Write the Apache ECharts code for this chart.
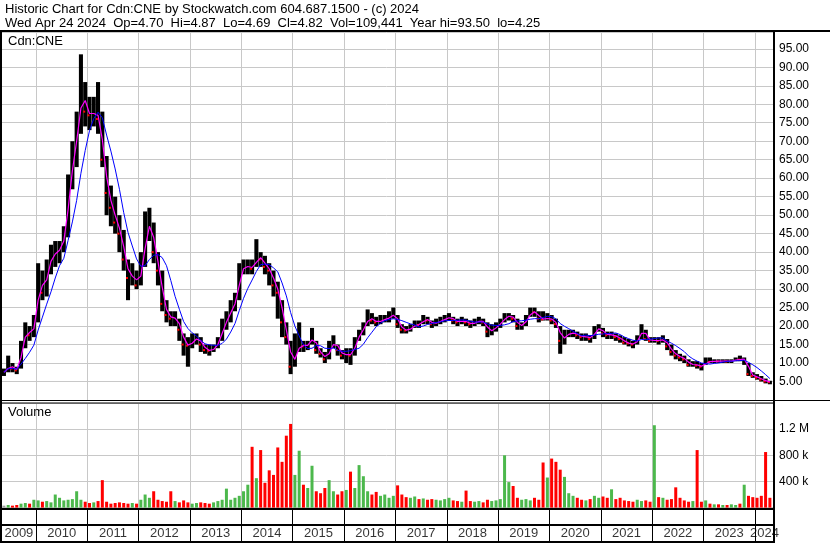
<!DOCTYPE html>
<html><head><meta charset="utf-8">
<script src="https://cdn.jsdelivr.net/npm/echarts@6/dist/echarts.min.js"></script>
<style>html,body{margin:0;padding:0;background:#fff}#c{width:830px;height:543px}</style>
</head><body><div id="c"></div>
<script>
// ---- data (monthly) ----
const startYear = 2009, startMonth = 5; // first bar: May 2009
const closes = [
  7.5, 9.5, 8.5, 8, 15, 19, 17.5, 21,
  33, 29, 36, 39, 40, 41, 45, 58, 66, 74, 84, 78,
  77, 78, 76, 65, 56, 52, 48, 45, 38, 33, 34, 31,
  36, 46, 48, 40, 35, 26, 23, 22, 22.3, 19, 15, 14.7,
  16, 17, 15, 13.5, 13.3, 14, 16, 20, 22, 25, 27, 35,
  36, 36.2, 35.5, 39, 38, 36, 35, 31, 29, 21, 17, 9,
  13, 15, 14.5, 15, 17.5, 13.5, 12.5, 11, 14, 16, 13.5, 12,
  12.5, 12, 16, 18, 20, 22.5, 21.5, 21, 21.5, 22, 22.3, 23.5,
  20.5, 19, 18.8, 19.5, 20.5, 20.3, 22, 21.5, 20.5, 21, 21.5, 22,
  22.5, 21.5, 21, 21.5, 21, 20.5, 21, 21.5, 21, 18.5, 19, 20,
  21, 22.5, 22.8, 22, 20, 20.3, 22, 24, 23.7, 22, 21.8, 22.3,
  21.5, 20.5, 16, 17.5, 18, 18.2, 17.5, 17, 17.2, 16.5, 19, 19.5,
  18, 17.5, 17.7, 17, 16.5, 15.5, 15.3, 15, 16.5, 19.5, 16.5, 16,
  16.2, 16, 16.5, 14.5, 13, 12, 11.5, 11, 9.5, 9.7, 9.3, 9,
  10.5, 10.3, 10.6, 10.4, 10.6, 10.4, 10.6, 11, 10.9, 11.2, 7, 6.5,
  6, 5.5, 5, 4.82
];
const highs = [
  8.5, 12, 10, 9, 16, 21, 20, 23,
  37, 35, 38, 42, 43, 43, 47, 61, 70, 78, 93.5, 86,
  82, 82, 86, 78, 66, 58, 55, 50, 46, 38, 37, 35,
  40, 51, 52, 48, 40, 35, 27, 24, 24, 22, 18, 17,
  18, 18, 17, 15, 15, 15, 17, 22, 24, 27, 29, 37,
  38, 38, 38, 43.5, 40, 39, 37, 35, 32, 27, 21, 16,
  18, 21, 16, 16, 19.5, 16, 14, 13, 16, 17.5, 15, 13.5,
  14, 14, 17, 19, 21, 24.5, 23.5, 22.5, 23, 23, 24, 25,
  23, 20.5, 20, 20.5, 21.5, 21.5, 23, 22.5, 21.5, 22, 22.5, 23,
  23.5, 22.5, 22, 22.5, 22, 21.5, 22, 22.5, 22, 21, 20.5, 21,
  22, 23.5, 23.5, 23, 22, 21, 23, 25, 25, 24, 24, 23.5,
  23, 22, 20, 19, 19, 19, 18.5, 18, 18, 17.5, 20, 20.5,
  19.5, 18.5, 18.5, 18, 17.5, 17, 16.5, 16, 17.5, 20.5, 19, 17,
  17, 17, 17.5, 16.5, 15, 13.5, 12.5, 12, 11, 10.5, 10.5, 10,
  11.5, 11.5, 11, 11, 11, 11, 11, 11.5, 12, 11.5, 10, 7.5,
  7, 6.5, 5.8, 5.2
];
const lows = [
  6.5, 7.5, 7.5, 7, 8.5, 14, 16, 17,
  21, 27, 28, 34, 36, 37, 40, 44, 57, 63, 72, 74,
  73, 74, 72, 63, 50, 47, 45, 40, 35, 27, 31, 30,
  31, 36, 43, 37, 31, 24, 21, 20, 20, 16, 12, 9,
  14, 15, 13, 12.5, 12, 13, 14, 16, 19, 21, 24, 27,
  34, 34, 34, 36, 36, 34, 31, 28, 22, 17, 15, 7,
  9, 13, 13, 13.5, 15, 12.5, 11.5, 10, 11, 14, 12, 11,
  10, 9.5, 12, 16, 17.5, 20, 20.5, 20, 20.5, 21, 21, 22,
  19.5, 18, 18, 18.5, 19.5, 19.5, 20.5, 20.5, 19.5, 20, 20.5, 21,
  21.5, 20.5, 20, 20.5, 20, 19.5, 20, 20.5, 20, 17, 17.5, 18.5,
  19.5, 21, 21.5, 21, 19, 19, 20, 22.5, 22.5, 21, 21.5, 21.5,
  20.5, 19.5, 12.5, 15, 17, 17, 16.5, 16, 16, 15.5, 16.5, 18.5,
  17, 16.5, 16.5, 16, 15.5, 15, 14.5, 14, 15, 16.5, 16, 15.5,
  15.5, 15, 15.5, 13.5, 12, 11, 10.5, 10, 9, 9, 8.5, 8,
  9.5, 10, 10, 10, 10, 10, 10, 10.5, 10.5, 9.5, 6.5, 6,
  5.5, 5, 4.5, 4.25
];
const volumes = [ // thousands of shares
  30, 40, 30, 40, 60, 70, 60, 120,
  110, 90, 100, 80, 200, 150, 110, 120, 130, 250, 120, 90,
  70, 80, 100, 420, 90, 60, 70, 80, 70, 60, 70, 60,
  120, 200, 150, 250, 120, 100, 90, 250, 100, 80, 110, 80,
  60, 70, 80, 70, 60, 80, 100, 120, 290, 120, 150, 180,
  250, 350, 930, 450, 880, 380, 570, 500, 920, 700, 1100, 1280,
  500, 870, 350, 300, 640, 250, 220, 300, 420, 250, 200, 250,
  270, 550, 300, 650, 480, 250, 200, 240, 180, 200, 150, 180,
  340, 200, 160, 150, 170, 130, 140, 120, 130, 120, 110, 130,
  150, 110, 100, 90, 260, 100, 90, 100, 80, 120, 100, 110,
  130, 800, 390, 330, 150, 120, 130, 110, 150, 120, 690, 460,
  750, 700, 580, 470, 220, 180, 150, 120, 110, 130, 180, 150,
  170, 150, 280, 130, 150, 110, 100, 90, 120, 100, 110, 90,
  1260, 160, 150, 120, 130, 310, 150, 110, 90, 100, 880, 90,
  110, 60, 50, 50, 40, 40, 50, 40, 60, 350, 180, 160,
  150, 180, 850, 150
];
const years = [2009,2010,2011,2012,2013,2014,2015,2016,2017,2018,2019,2020,2021,2022,2023,2024];
const volumeTicks = [400, 800, 1200];
const volumeTickLabels = ['400 k', '800 k', '1.2 M'];
const maShort = 2, maLong = 6;

// ---- layout ----
const FONT = '"Liberation Sans", Arial, sans-serif';
const PX_PER_YEAR = 51.35;
const X_2009 = -15.35;          // pixel of 1 Jan 2009 (off the left edge)
const PLOT_RIGHT = 774;
const xMin = 2009, xMax = 2009 + (PLOT_RIGHT - X_2009) / PX_PER_YEAR;
const visStart = startYear + (startMonth - 1) / 12;

const xs = closes.map((_, i) => startYear + (startMonth - 1 + i + 0.5) / 12);
function sma(arr, n) {
  return arr.map((_, i) => {
    const s = Math.max(0, i - n + 1); let t = 0;
    for (let j = s; j <= i; j++) t += arr[j];
    return t / (i - s + 1);
  });
}
const maS = sma(closes, maShort), maL = sma(closes, maLong);

const chart = echarts.init(document.getElementById('c'), null, {renderer: 'canvas'});
const txt = (size) => ({fontFamily: FONT, fontSize: size, fontWeight: 'normal', color: '#000'});
const gridBase = {left: X_2009, right: 830 - PLOT_RIGHT, outerBoundsMode: 'none', containLabel: false, show: false};

const option = {
  animation: false,
  backgroundColor: '#fff',
  textStyle: {fontFamily: FONT},
  title: [
    {text: 'Historic Chart for Cdn:CNE by Stockwatch.com 604.687.1500 - (c) 2024', left: 5, top: 3, padding: 0, textStyle: txt(13)},
    {text: 'Wed Apr 24 2024  Op=4.70  Hi=4.87  Lo=4.69  Cl=4.82  Vol=109,441  Year hi=93.50  lo=4.25', left: 5, top: 17, padding: 0, textStyle: txt(13)},
    {text: 'Cdn:CNE', left: 8, top: 35, padding: 0, textStyle: txt(13)},
    {text: 'Volume', left: 8, top: 406, padding: 0, textStyle: txt(13)}
  ],
  grid: [
    Object.assign({top: 32, height: 368}, gridBase),
    Object.assign({top: 403, height: 104.6}, gridBase),
    Object.assign({top: 510, height: 31}, gridBase)
  ],
  xAxis: [0, 1, 2].map(i => ({
    type: 'value', gridIndex: i, min: xMin, max: xMax, interval: 1,
    axisLine: {show: false}, axisTick: {show: false}, axisLabel: {show: false},
    splitLine: {show: true, lineStyle: {color: i === 2 ? '#000' : '#c8c8c8', width: 1}}
  })),
  yAxis: [
    {type: 'value', gridIndex: 0, position: 'right', min: 0, max: 368 / 3.697, interval: 5,
     axisLine: {show: false}, axisTick: {show: false},
     axisLabel: {show: true, margin: 5, showMinLabel: false, showMaxLabel: false, color: '#000', fontFamily: FONT, fontSize: 12,
                 formatter: v => v.toFixed(2)},
     splitLine: {show: true, lineStyle: {color: '#c8c8c8', width: 1}}},
    {type: 'value', gridIndex: 1, position: 'right', min: 0, max: 1600, interval: 400,
     axisLine: {show: false}, axisTick: {show: false},
     axisLabel: {show: true, margin: 5, showMinLabel: false, showMaxLabel: false, color: '#000', fontFamily: FONT, fontSize: 12,
                 formatter: v => { const k = volumeTicks.indexOf(v); return k >= 0 ? volumeTickLabels[k] : ''; }},
     splitLine: {show: true, lineStyle: {color: '#c8c8c8', width: 1}}},
    {type: 'value', gridIndex: 2, min: 0, max: 1, show: false}
  ],
  series: [
    {
      type: 'custom', xAxisIndex: 0, yAxisIndex: 0, clip: true, z: 3,
      data: xs.map((x, i) => [x, lows[i], highs[i], closes[i], (i > 0 && closes[i] < closes[i - 1]) ? 1 : 0]),
      renderItem(params, api) {
        const x = api.value(0);
        const lo = api.coord([x, api.value(1)]);
        const hi = api.coord([x, api.value(2)]);
        const cl = api.coord([x, api.value(3)]);
        const w = api.size([1 / 12, 0])[0];
        const bw = Math.max(1, w * 0.95);
        const ch = [{type: 'rect', shape: {x: hi[0] - bw / 2, y: hi[1], width: bw, height: Math.max(1, lo[1] - hi[1])}, style: {fill: '#000'}}];
        if (api.value(4)) ch.push({type: 'rect', shape: {x: cl[0] - bw / 2, y: cl[1] - 1, width: bw / 2, height: 2}, style: {fill: '#ff0000'}});
        return {type: 'group', children: ch};
      }
    },
    {type: 'line', xAxisIndex: 0, yAxisIndex: 0, data: xs.map((x, i) => [x, maS[i]]), symbol: 'none', z: 4,
     lineStyle: {color: '#ff00ff', width: 1.2}},
    {type: 'line', xAxisIndex: 0, yAxisIndex: 0, data: xs.map((x, i) => [x, maL[i]]), symbol: 'none', z: 5,
     lineStyle: {color: '#0000ff', width: 1}},
    {type: 'bar', xAxisIndex: 1, yAxisIndex: 1, barWidth: 3, z: 3,
     data: xs.map((x, i) => ({
       value: [x, volumes[i]],
       itemStyle: {color: i === 0 || closes[i] === closes[i - 1] ? '#a0a0a0' : (closes[i] > closes[i - 1] ? '#4cb84c' : '#ff0000')}
     }))},
    {type: 'scatter', xAxisIndex: 2, yAxisIndex: 2, symbolSize: 0, silent: true,
     data: years.map(y => [(Math.max(y, visStart) + Math.min(y + 1, xMax)) / 2, 0.24, String(y)]),
     label: {show: true, position: 'inside', formatter: p => p.value[2], color: '#000', fontFamily: FONT, fontSize: 13}}
  ],
  graphic: [
    {type: 'line', shape: {x1: 0, y1: 31, x2: 830, y2: 31}, style: {stroke: '#000', lineWidth: 2}, z: 100},
    {type: 'line', shape: {x1: 1, y1: 30, x2: 1, y2: 543}, style: {stroke: '#000', lineWidth: 2}, z: 100},
    {type: 'line', shape: {x1: PLOT_RIGHT, y1: 30, x2: PLOT_RIGHT, y2: 543}, style: {stroke: '#000', lineWidth: 2}, z: 100},
    {type: 'line', shape: {x1: 0, y1: 400.5, x2: 830, y2: 400.5}, style: {stroke: '#000', lineWidth: 1}, z: 100},
    {type: 'line', shape: {x1: 0, y1: 403, x2: PLOT_RIGHT, y2: 403}, style: {stroke: '#000', lineWidth: 1}, z: 100},
    {type: 'line', shape: {x1: 0, y1: 509, x2: PLOT_RIGHT, y2: 509}, style: {stroke: '#000', lineWidth: 2}, z: 100},
    {type: 'line', shape: {x1: 0, y1: 525, x2: PLOT_RIGHT, y2: 525}, style: {stroke: '#000', lineWidth: 2}, z: 100},
    {type: 'line', shape: {x1: 0, y1: 542, x2: PLOT_RIGHT, y2: 542}, style: {stroke: '#000', lineWidth: 2}, z: 100}
  ]
};
chart.setOption(option);
</script></body></html>
